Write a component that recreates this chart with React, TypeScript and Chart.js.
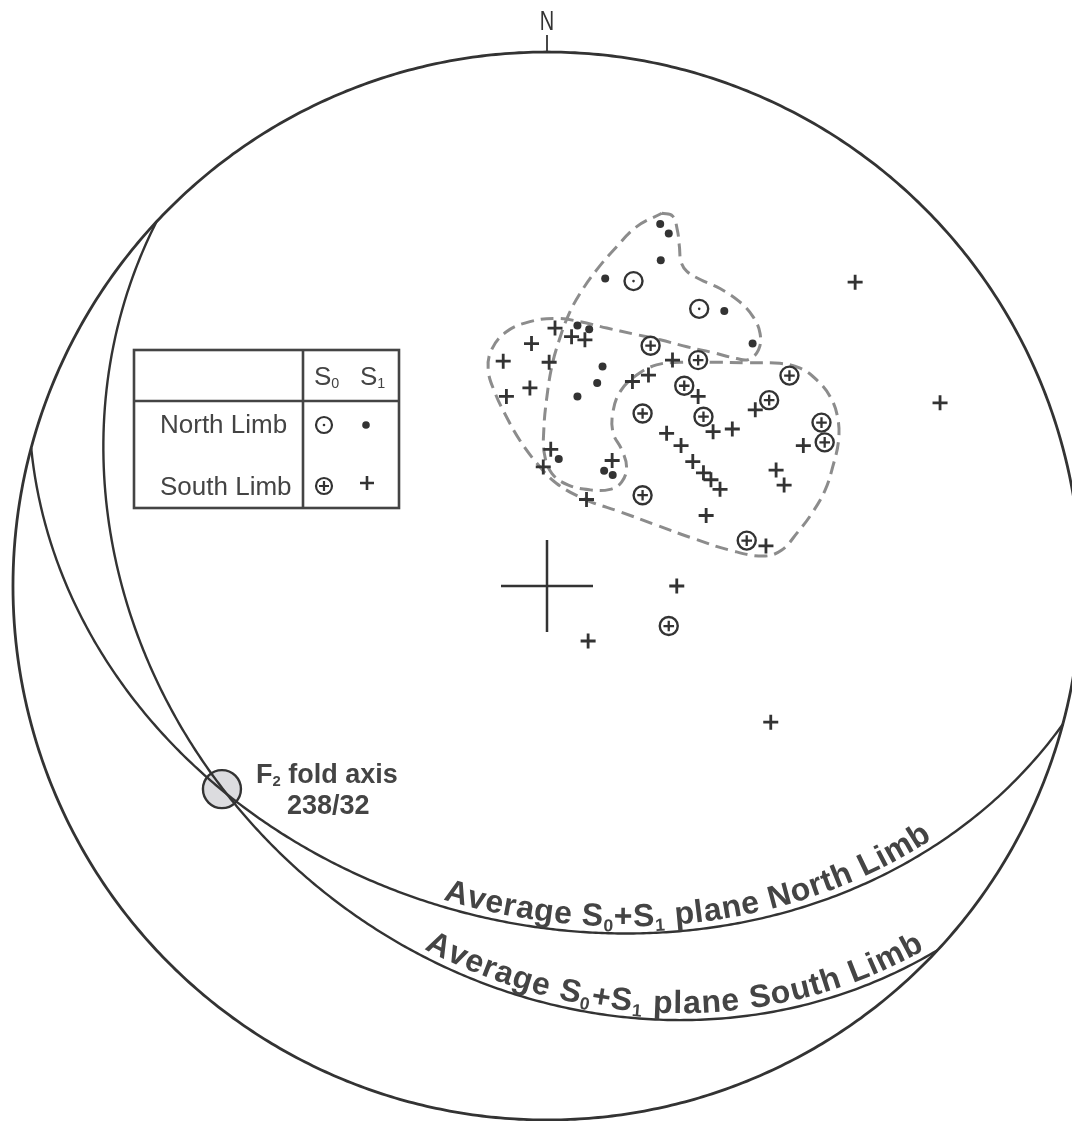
import React, { useEffect, useRef } from "react";
import { Chart, registerables } from "chart.js";

Chart.register(...registerables);

// Lower-hemisphere equal-area (Schmidt) net.
// Point positions are in percent of the primitive radius (x = east, y = north).
const northLimbS0: [number, number][] = [
  [16.2, 57.1], [28.5, 51.9],
];

const northLimbS1: [number, number][] = [
  [21.2, 67.8], [22.8, 66.0], [21.3, 61.0], [10.9, 57.6], [33.2, 51.5],
  [38.5, 45.4], [5.7, 48.8], [7.9, 48.1], [10.4, 41.1], [9.4, 38.0],
  [5.7, 35.5], [2.2, 23.8], [10.7, 21.6], [12.3, 20.8],
];

const southLimbS0: [number, number][] = [
  [19.4, 45.0], [28.3, 42.3], [25.7, 37.5], [45.4, 39.4], [41.6, 34.8],
  [17.9, 32.3], [29.3, 31.7], [51.4, 30.6], [52.0, 26.9], [17.9, 17.0],
  [37.4, 8.5], [22.8, -7.5],
];

const southLimbS1: [number, number][] = [
  [1.5, 48.3], [-2.9, 45.4], [-8.2, 42.1], [0.4, 41.9], [4.6, 46.7],
  [7.1, 46.1], [-3.2, 37.1], [-7.6, 35.5], [23.5, 42.3], [16.0, 38.3],
  [19.0, 39.5], [28.3, 35.5], [39.0, 33.0], [31.1, 28.9], [34.7, 29.4],
  [22.4, 28.6], [25.1, 26.3], [0.7, 25.6], [-0.7, 22.3], [12.2, 23.5],
  [27.3, 23.3], [29.3, 21.2], [30.7, 19.9], [32.4, 18.1], [42.9, 21.7],
  [44.4, 18.9], [48.0, 26.3], [7.4, 16.2], [29.8, 13.2], [41.0, 7.5],
  [57.7, 56.9], [73.6, 34.3], [24.3, 0.0], [7.7, -10.3], [41.9, -25.5],
];

// dashed outline around the pole clusters
const fieldOutline: [number, number][] = [
  [21.5, 69.8], [23.5, 69.3], [24.4, 66.7], [24.8, 63.5], [25.1, 60.7], [26.2, 58.9],
  [28.7, 57.4], [32.4, 55.7], [36.1, 53.2], [38.6, 50.4], [39.9, 47.3], [39.6, 44.2],
  [37.7, 42.4], [35.5, 42.6], [31.1, 43.7], [26.2, 44.8], [21.2, 46.1], [16.2, 47.2],
  [11.2, 48.3], [6.2, 49.5], [1.8, 50.1], [-3.2, 49.5], [-7.6, 47.6], [-10.4, 44.2],
  [-11.0, 40.4], [-9.7, 36.1], [-7.6, 31.7], [-5.1, 27.3], [-1.9, 23.0], [1.8, 19.2],
  [7.4, 16.1], [13.7, 13.9], [20.5, 11.4], [27.4, 8.9], [34.3, 6.7], [40.5, 5.6],
  [43.9, 6.7], [46.8, 9.9], [49.6, 13.6], [52.1, 18.0], [53.5, 22.3], [54.6, 27.3],
  [54.4, 31.7], [53.0, 35.5], [50.5, 38.6], [47.4, 40.8], [43.6, 41.7], [37.4, 41.8],
  [31.1, 41.9], [24.9, 41.9], [20.5, 41.4], [16.8, 39.5], [13.7, 36.4], [12.3, 32.3],
  [12.4, 28.6], [14.0, 25.5], [14.9, 22.3], [14.0, 19.5], [11.8, 18.1], [8.1, 18.0],
  [4.0, 18.9], [0.9, 21.1], [-0.5, 24.8], [-0.6, 29.2], [-0.1, 34.8], [0.9, 41.1],
  [2.3, 46.1], [4.0, 50.7], [6.2, 54.8], [9.3, 59.2], [13.0, 63.5], [16.8, 67.3],
];

// average S0+S1 planes (dip direction / dip)
const planeLimbs = ["North Limb", "South Limb"];
const planeDipDirections = [195, 223];
const planeDips = [37, 30];

const foldAxisTrend = 238;
const foldAxisPlunge = 29;
const foldAxisLabel = "238/32";

const INK = "#333333";
const TEXT = "#444444";
const FONT = '"Liberation Sans", Arial, Helvetica, sans-serif';

const toRad = (d: number) => (d * Math.PI) / 180;

function project(trend: number, plunge: number) {
  const r = 100 * Math.SQRT2 * Math.sin(toRad(90 - plunge) / 2);
  return { x: r * Math.sin(toRad(trend)), y: r * Math.cos(toRad(trend)) };
}

// west end -> east end
function greatCircle(dipDir: number, dip: number) {
  const pts: { x: number; y: number }[] = [];
  for (let t = 90; t >= -90; t -= 1) {
    const plunge = (Math.atan(Math.tan(toRad(dip)) * Math.cos(toRad(t))) * 180) / Math.PI;
    pts.push(project(dipDir + t, plunge));
  }
  return pts;
}

function primitive() {
  const pts: { x: number; y: number }[] = [];
  for (let a = 0; a <= 360; a += 1) pts.push({ x: 100 * Math.sin(toRad(a)), y: 100 * Math.cos(toRad(a)) });
  return pts;
}

const xy = (arr: [number, number][]) => arr.map(([x, y]) => ({ x, y }));

type Seg = { t: string; sub?: boolean };

function drawRich(ctx: CanvasRenderingContext2D, segs: Seg[], x: number, y: number, size: number, weight: string) {
  let cx = x;
  ctx.textAlign = "left";
  ctx.textBaseline = "alphabetic";
  for (const s of segs) {
    const fs = s.sub ? size * 0.55 : size;
    ctx.font = `${weight} ${fs}px ${FONT}`;
    ctx.fillText(s.t, cx, s.sub ? y + size * 0.1 : y);
    cx += ctx.measureText(s.t).width;
  }
}

function drawOnCurve(
  ctx: CanvasRenderingContext2D,
  pts: { x: number; y: number }[],
  segs: Seg[],
  x0: number,
  x1: number,
  size: number,
  offset: number
) {
  const cum = [0];
  for (let i = 1; i < pts.length; i++) {
    cum.push(cum[i - 1] + Math.hypot(pts[i].x - pts[i - 1].x, pts[i].y - pts[i - 1].y));
  }
  const distAt = (X: number) => {
    for (let i = 0; i < pts.length - 1; i++) {
      const a = pts[i], b = pts[i + 1];
      if (b.x > a.x && a.x <= X && b.x >= X) return cum[i] + ((X - a.x) / (b.x - a.x)) * (cum[i + 1] - cum[i]);
    }
    return cum[cum.length - 1];
  };
  const at = (d: number) => {
    let i = 0;
    while (i < pts.length - 2 && cum[i + 1] < d) i++;
    const a = pts[i], b = pts[i + 1];
    const f = (d - cum[i]) / (cum[i + 1] - cum[i] || 1);
    return { x: a.x + (b.x - a.x) * f, y: a.y + (b.y - a.y) * f, ang: Math.atan2(b.y - a.y, b.x - a.x) };
  };
  const glyphs: { ch: string; fs: number; sub: boolean; w: number }[] = [];
  for (const s of segs) {
    const fs = s.sub ? size * 0.55 : size;
    ctx.font = `bold ${fs}px ${FONT}`;
    for (const ch of s.t) glyphs.push({ ch, fs, sub: !!s.sub, w: ctx.measureText(ch).width });
  }
  const d0 = distAt(x0), d1 = distAt(x1);
  const natural = glyphs.reduce((acc, g) => acc + g.w, 0);
  const gap = (d1 - d0 - natural) / (glyphs.length - 1);
  let d = d0;
  ctx.fillStyle = TEXT;
  ctx.textAlign = "center";
  ctx.textBaseline = "alphabetic";
  for (const g of glyphs) {
    const p = at(d + g.w / 2);
    ctx.save();
    ctx.translate(p.x + Math.sin(p.ang) * offset, p.y - Math.cos(p.ang) * offset);
    ctx.rotate(p.ang);
    ctx.font = `bold ${g.fs}px ${FONT}`;
    ctx.fillText(g.ch, 0, g.sub ? size * 0.16 : 0);
    ctx.restore();
    d += g.w + gap;
  }
}

const planeLabel = (limb: string): Seg[] => [
  { t: "Average S" }, { t: "0", sub: true }, { t: "+S" }, { t: "1", sub: true }, { t: " plane " + limb },
];

// label placement along the great circles (pixel x where text starts / ends)
const labelStartX = [441, 421];
const labelEndX = [936, 928];

const decorations = {
  id: "decorations",
  afterDatasetsDraw(chart: Chart) {
    const ctx = chart.ctx;
    const xs = chart.scales.x;
    const ys = chart.scales.y;
    const toPx = (p: { x: number; y: number }) => ({ x: xs.getPixelForValue(p.x), y: ys.getPixelForValue(p.y) });
    ctx.save();

    // north label
    const top = toPx({ x: 0, y: 103.2 });
    ctx.save();
    ctx.fillStyle = INK;
    ctx.font = `27px ${FONT}`;
    ctx.textAlign = "center";
    ctx.textBaseline = "alphabetic";
    ctx.translate(top.x, 30);
    ctx.scale(0.74, 1);
    ctx.fillText("N", 0, 0);
    ctx.restore();

    // curved plane labels
    planeDipDirections.forEach((dd, i) => {
      const pts = greatCircle(dd, planeDips[i]).map(toPx);
      drawOnCurve(ctx, pts, planeLabel(planeLimbs[i]), labelStartX[i], labelEndX[i], 32, 7);
    });

    // fold axis label
    ctx.fillStyle = TEXT;
    drawRich(ctx, [{ t: "F" }, { t: "2", sub: true }, { t: " fold axis" }], 256, 783, 27, "bold");
    drawRich(ctx, [{ t: foldAxisLabel }], 287, 814, 27, "bold");

    // key table
    ctx.strokeStyle = TEXT;
    ctx.lineWidth = 2.6;
    ctx.strokeRect(134, 350, 265, 158);
    ctx.beginPath();
    ctx.moveTo(303, 350);
    ctx.lineTo(303, 508);
    ctx.moveTo(134, 401);
    ctx.lineTo(399, 401);
    ctx.stroke();
    ctx.fillStyle = TEXT;
    drawRich(ctx, [{ t: "S" }, { t: "0", sub: true }], 314, 385, 26, "normal");
    drawRich(ctx, [{ t: "S" }, { t: "1", sub: true }], 360, 385, 26, "normal");
    drawRich(ctx, [{ t: "North Limb" }], 160, 433, 26, "normal");
    drawRich(ctx, [{ t: "South Limb" }], 160, 495, 26, "normal");

    ctx.strokeStyle = INK;
    ctx.fillStyle = INK;
    ctx.lineWidth = 2.2;
    // open circle with dot
    ctx.beginPath();
    ctx.arc(324, 425, 8, 0, Math.PI * 2);
    ctx.stroke();
    ctx.beginPath();
    ctx.arc(324, 425, 1.3, 0, Math.PI * 2);
    ctx.fill();
    // dot
    ctx.beginPath();
    ctx.arc(366, 425, 3.8, 0, Math.PI * 2);
    ctx.fill();
    // circled plus
    ctx.beginPath();
    ctx.arc(324, 486, 8, 0, Math.PI * 2);
    ctx.stroke();
    ctx.beginPath();
    ctx.moveTo(319, 486);
    ctx.lineTo(329, 486);
    ctx.moveTo(324, 481);
    ctx.lineTo(324, 491);
    ctx.stroke();
    // plus
    ctx.lineWidth = 2.6;
    ctx.beginPath();
    ctx.moveTo(360, 483);
    ctx.lineTo(374, 483);
    ctx.moveTo(367, 476);
    ctx.lineTo(367, 490);
    ctx.stroke();

    ctx.restore();
  },
};

export default function App() {
  const canvasRef = useRef<HTMLCanvasElement | null>(null);

  useEffect(() => {
    if (!canvasRef.current) return;
    // tiny tension keeps Chart.js off its per-pixel "fast path", which
    // chops near-vertical curves into steps
    const lineSet = (data: { x: number; y: number }[], extra: object = {}) => ({
      data,
      showLine: true,
      pointRadius: 0,
      borderColor: INK,
      borderWidth: 2.4,
      fill: false,
      clip: false,
      tension: 0.001,
      order: 8,
      ...extra,
    });

    const chart = new Chart(canvasRef.current, {
      type: "scatter",
      data: {
        datasets: [
          lineSet([...xy(fieldOutline), xy(fieldOutline)[0]], {
            borderColor: "#8c8c8c",
            borderWidth: 3,
            borderDash: [13, 7],
            tension: 0.4,
            order: 10,
          }),
          {
            data: [project(foldAxisTrend, foldAxisPlunge)],
            pointRadius: 19,
            pointBackgroundColor: "#dcdcdf",
            pointBorderColor: INK,
            pointBorderWidth: 2.4,
            order: 9,
          },
          lineSet(primitive(), { borderWidth: 2.8 }),
          ...planeDipDirections.map((dd, i) => lineSet(greatCircle(dd, planeDips[i]))),
          lineSet([{ x: 0, y: 100 }, { x: 0, y: 103.2 }], { borderWidth: 1.8, tension: 0 }),
          {
            data: [{ x: 0, y: 0 }],
            pointStyle: "cross",
            pointRadius: 46,
            pointBorderColor: INK,
            pointBorderWidth: 2.5,
            order: 7,
          },
          {
            data: xy(southLimbS0),
            pointStyle: "circle",
            pointRadius: 9,
            pointBackgroundColor: "#ffffff",
            pointBorderColor: INK,
            pointBorderWidth: 2.4,
            order: 6,
          },
          {
            data: xy(northLimbS0),
            pointStyle: "circle",
            pointRadius: 9,
            pointBackgroundColor: "#ffffff",
            pointBorderColor: INK,
            pointBorderWidth: 2.4,
            order: 6,
          },
          {
            data: xy(southLimbS0),
            pointStyle: "cross",
            pointRadius: 5.3,
            pointBorderColor: INK,
            pointBorderWidth: 2.3,
            order: 5,
          },
          {
            data: xy(northLimbS0),
            pointStyle: "circle",
            pointRadius: 1.3,
            pointBackgroundColor: INK,
            pointBorderWidth: 0,
            order: 5,
          },
          {
            data: xy(southLimbS1),
            pointStyle: "cross",
            pointRadius: 7.5,
            pointBorderColor: INK,
            pointBorderWidth: 2.8,
            order: 5,
          },
          {
            data: xy(northLimbS1),
            pointStyle: "circle",
            pointRadius: 4,
            pointBackgroundColor: INK,
            pointBorderWidth: 0,
            order: 5,
          },
        ],
      },
      options: {
        responsive: false,
        animation: false,
        events: [],
        layout: { padding: 0, autoPadding: false },
        scales: {
          x: { type: "linear", min: -102.43, max: 98.31, display: false },
          y: { type: "linear", min: -100.19, max: 109.74, display: false },
        },
        plugins: {
          legend: { display: false },
          tooltip: { enabled: false },
        },
      },
      plugins: [decorations],
    } as any);

    return () => chart.destroy();
  }, []);

  return (
    <div style={{ position: "absolute", left: 0, top: 0, width: 1072, height: 1121, background: "#ffffff" }}>
      <canvas ref={canvasRef} width={1072} height={1121} style={{ display: "block" }} />
    </div>
  );
}
